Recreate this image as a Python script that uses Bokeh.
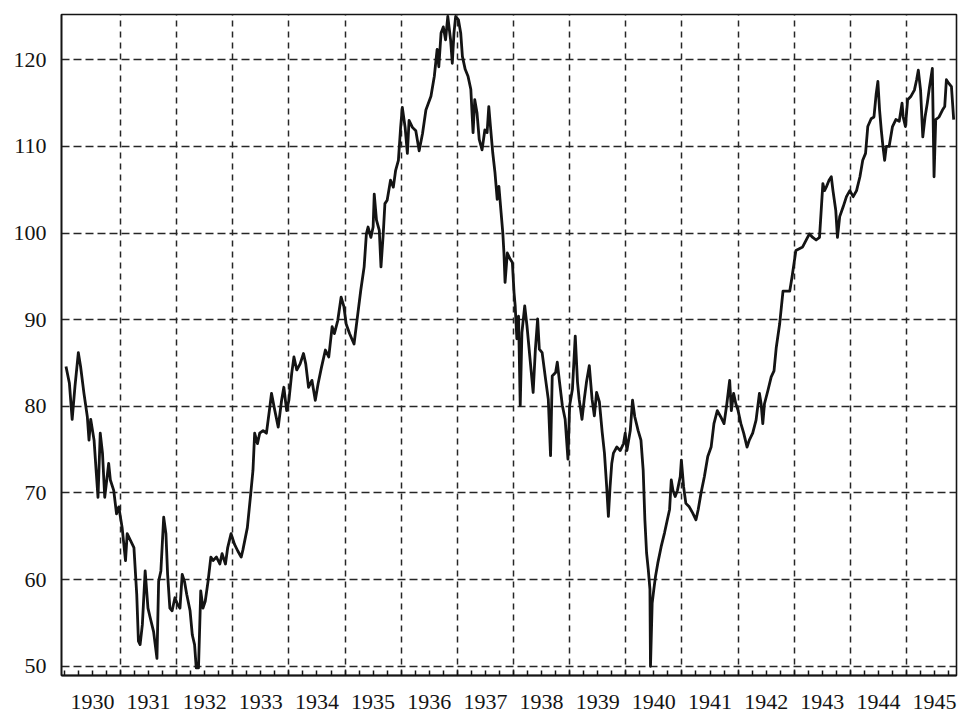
from bokeh.plotting import figure
from bokeh.models import FixedTicker, ColumnDataSource
from bokeh.embed import file_html
from bokeh.resources import INLINE

# ---- data ---------------------------------------------------------------
years = list(range(1930, 1946))
year_labels = [str(y) for y in years]
y_ticks = [50, 60, 70, 80, 90, 100, 110, 120]

dates = [
    1930.03, 1930.09, 1930.14, 1930.19, 1930.25, 1930.29, 1930.35, 1930.41, 1930.44, 1930.47,
    1930.53, 1930.57, 1930.60, 1930.64, 1930.68, 1930.72, 1930.79, 1930.82, 1930.88, 1930.93, 1930.97,
    1931.03, 1931.09, 1931.12, 1931.18, 1931.24, 1931.29, 1931.32, 1931.35, 1931.39, 1931.44,
    1931.49, 1931.53, 1931.59, 1931.65, 1931.68, 1931.72, 1931.77, 1931.81, 1931.84, 1931.88, 1931.92, 1931.97,
    1932.02, 1932.06, 1932.10, 1932.14, 1932.18, 1932.24, 1932.28, 1932.32, 1932.35, 1932.39, 1932.43,
    1932.47, 1932.51, 1932.56, 1932.61, 1932.65, 1932.71, 1932.77, 1932.81, 1932.87, 1932.91, 1932.97,
    1933.03, 1933.09, 1933.15, 1933.18, 1933.26, 1933.32, 1933.36, 1933.39, 1933.44, 1933.48, 1933.54,
    1933.60, 1933.66, 1933.69, 1933.75, 1933.81, 1933.87, 1933.91, 1933.96,
    1934.00, 1934.05, 1934.09, 1934.14, 1934.20, 1934.26, 1934.30, 1934.35, 1934.41, 1934.47, 1934.52,
    1934.58, 1934.65, 1934.71, 1934.77, 1934.81, 1934.87, 1934.93, 1934.98,
    1935.02, 1935.08, 1935.16, 1935.22, 1935.28, 1935.34, 1935.38, 1935.41, 1935.46, 1935.50, 1935.52,
    1935.56, 1935.61, 1935.64, 1935.68, 1935.71, 1935.75, 1935.81, 1935.86, 1935.90, 1935.95, 1935.99,
    1936.02, 1936.07, 1936.11, 1936.14, 1936.20, 1936.26, 1936.32, 1936.38, 1936.44, 1936.53, 1936.59,
    1936.64, 1936.67, 1936.71, 1936.75, 1936.79, 1936.83, 1936.88, 1936.91, 1936.94, 1936.97,
    1937.02, 1937.06, 1937.09, 1937.14, 1937.19, 1937.24, 1937.28, 1937.31, 1937.35, 1937.39, 1937.44,
    1937.49, 1937.53, 1937.56, 1937.59, 1937.63, 1937.67, 1937.71, 1937.74, 1937.78, 1937.81, 1937.83,
    1937.85, 1937.89, 1937.94, 1937.98,
    1938.01, 1938.03, 1938.06, 1938.09, 1938.12, 1938.15, 1938.20, 1938.24, 1938.30, 1938.35, 1938.39,
    1938.43, 1938.46, 1938.51, 1938.57, 1938.62, 1938.66, 1938.69, 1938.75, 1938.78, 1938.82, 1938.87,
    1938.92, 1938.97,
    1939.00, 1939.05, 1939.10, 1939.14, 1939.17, 1939.22, 1939.26, 1939.30, 1939.35, 1939.40, 1939.44,
    1939.48, 1939.53, 1939.58, 1939.62, 1939.66, 1939.69, 1939.72, 1939.75, 1939.78, 1939.84, 1939.90,
    1939.96, 1939.99,
    1940.02, 1940.08, 1940.12, 1940.16, 1940.22, 1940.27, 1940.31, 1940.34, 1940.37, 1940.40, 1940.43,
    1940.44, 1940.47, 1940.50, 1940.53, 1940.57, 1940.63, 1940.69, 1940.74, 1940.78, 1940.81, 1940.84,
    1940.88, 1940.92, 1940.97, 1940.99,
    1941.03, 1941.07, 1941.13, 1941.19, 1941.25, 1941.29, 1941.34, 1941.40, 1941.46, 1941.52, 1941.57,
    1941.63, 1941.69, 1941.75, 1941.80, 1941.85, 1941.88, 1941.92, 1941.96,
    1942.00, 1942.05, 1942.10, 1942.16, 1942.20, 1942.26, 1942.32, 1942.38, 1942.41, 1942.44, 1942.47,
    1942.53, 1942.59, 1942.64, 1942.68, 1942.74, 1942.77, 1942.80, 1942.86, 1942.92, 1942.96,
    1943.03, 1943.15, 1943.27, 1943.33, 1943.39, 1943.45, 1943.48, 1943.51, 1943.54, 1943.57, 1943.62,
    1943.66, 1943.69, 1943.74, 1943.77, 1943.81, 1943.87, 1943.93, 1943.99,
    1944.05, 1944.11, 1944.17, 1944.22, 1944.27, 1944.31, 1944.37, 1944.42, 1944.46, 1944.49, 1944.52,
    1944.55, 1944.58, 1944.61, 1944.64, 1944.69, 1944.75, 1944.81, 1944.87, 1944.92, 1944.94, 1944.98,
    1945.02, 1945.08, 1945.14, 1945.18, 1945.21, 1945.25, 1945.29, 1945.33, 1945.37, 1945.41, 1945.46,
    1945.49, 1945.52, 1945.58, 1945.64, 1945.68, 1945.71, 1945.75, 1945.80, 1945.84,
]

values = [
    84.6, 82.7, 78.5, 82.3, 86.2, 84.6, 81.5, 78.8, 76.1, 78.5,
    76.1, 72.3, 69.5, 76.9, 74.6, 69.5, 73.4, 71.5, 70.3, 67.6, 68.4,
    66.0, 62.2, 65.3, 64.5, 63.7, 58.3, 52.9, 52.5, 54.8, 61.0,
    56.7, 55.6, 54.0, 50.9, 59.8, 61.0, 67.2, 65.3, 60.6, 56.7, 56.4, 57.9,
    57.1, 56.7, 60.6, 59.8, 58.3, 56.4, 53.6, 52.5, 49.8, 49.8, 58.7,
    56.7, 57.5, 59.8, 62.6, 62.2, 62.6, 61.8, 63.0, 61.8, 63.7, 65.3,
    64.1, 63.3, 62.6, 63.4, 66.0, 69.9, 72.6, 76.9, 75.7, 76.9, 77.2,
    76.9, 79.9, 81.5, 79.5, 77.6, 80.7, 82.2, 79.5,
    80.7, 83.8, 85.7, 84.2, 84.9, 86.1, 84.9, 82.2, 83.0, 80.7, 82.6,
    84.5, 86.5, 85.7, 89.2, 88.4, 89.9, 92.6, 91.5,
    89.5, 88.4, 87.2, 90.3, 93.4, 96.1, 99.9, 100.7, 99.5, 100.7, 104.5,
    101.5, 100.3, 96.1, 99.9, 103.4, 103.8, 106.1, 105.3, 107.2, 108.4, 112.2,
    114.5, 112.2, 109.2, 113.0, 112.2, 111.8, 109.5, 111.5, 114.2, 115.8, 118.1,
    121.2, 119.2, 123.1, 123.8, 122.3, 125.0, 122.3, 119.6, 123.1, 125.0,
    124.6, 123.1, 120.4, 118.9, 118.1, 116.6, 111.6, 115.4, 113.9, 110.8, 109.6,
    111.9, 111.6, 114.6, 112.3, 109.3, 107.0, 103.9, 105.4, 102.3, 100.0, 97.7,
    94.3, 97.7, 97.0, 96.6,
    93.1, 91.6, 87.8, 90.4, 80.1, 88.5, 91.6, 89.3, 85.1, 81.6, 86.6,
    90.1, 86.6, 86.2, 83.2, 80.8, 74.3, 83.5, 83.9, 85.1, 82.8, 80.1,
    78.5, 73.9,
    80.1, 82.0, 88.1, 82.8, 80.8, 78.5, 80.8, 82.8, 84.7, 80.8, 78.9,
    81.6, 80.5, 77.0, 74.6, 70.7, 67.3, 70.7, 73.4, 74.6, 75.3, 74.9,
    75.7, 76.9,
    74.9, 77.2, 80.7, 78.8, 77.2, 76.1, 72.6, 66.9, 63.1, 61.2, 58.9,
    50.0, 57.3, 58.9, 60.4, 61.9, 63.8, 65.4, 66.9, 68.1, 71.5, 70.3,
    69.6, 70.3, 71.9, 73.8,
    70.7, 68.8, 68.4, 67.7, 66.9, 68.1, 70.0, 71.9, 74.2, 75.3, 78.0,
    79.5, 78.8, 78.0, 80.3, 83.0, 79.5, 81.5, 80.3,
    79.5, 78.0, 76.9, 75.3, 76.1, 76.9, 78.4, 81.5, 80.3, 78.0, 80.3,
    81.8, 83.4, 84.1, 86.8, 89.5, 91.4, 93.3, 93.3, 93.3, 94.9,
    98.0, 98.4, 99.9, 99.5, 99.2, 99.5, 102.6, 105.7, 104.9, 105.3, 106.1,
    106.5, 104.9, 102.6, 99.5, 101.9, 103.0, 104.2, 104.9,
    104.2, 104.9, 106.5, 108.4, 109.2, 112.3, 113.2, 113.4, 116.1, 117.5, 114.2,
    111.9, 110.0, 108.4, 110.0, 110.0, 112.3, 113.1, 112.9, 115.0, 113.4, 112.3,
    115.4, 115.8, 116.5, 117.7, 118.8, 116.5, 111.1, 113.4, 115.0, 116.9, 119.0,
    106.5, 113.1, 113.4, 114.2, 114.6, 117.7, 117.3, 116.9, 113.1,
]

# ---- figure -------------------------------------------------------------
INK = "#141414"
FONT = "Liberation Serif"

p = figure(
    frame_width=895, frame_height=661,
    x_range=(1929.95, 1945.89), y_range=(48.93, 125.23),
    output_backend="svg", toolbar_location=None,
    min_border_left=61, min_border_top=14, min_border_right=6, min_border_bottom=38,
    background_fill_color="white", border_fill_color="white",
)
p.outline_line_color = INK
p.outline_line_width = 1.6

src = ColumnDataSource(dict(date=dates, value=values))
p.line(x="date", y="value", source=src, line_color=INK, line_width=2.8,
       line_join="round")

# x axis: labels centred in each year, quarterly ticks pointing inwards
xa = p.xaxis[0]
xa.ticker = FixedTicker(
    ticks=[y + 0.5 for y in years],
    minor_ticks=[y + q for y in years for q in (0.0, 0.25, 0.75)],
)
xa.major_label_overrides = {y + 0.5: lab for y, lab in zip(years, year_labels)}
xa.major_tick_in = 5
xa.major_tick_out = 0
xa.minor_tick_in = 5
xa.minor_tick_out = 0
xa.major_tick_line_color = INK
xa.minor_tick_line_color = INK
xa.major_tick_line_width = 1.5
xa.minor_tick_line_width = 1.5
xa.axis_line_color = INK
xa.axis_line_width = 2
xa.major_label_text_font = FONT
xa.major_label_text_font_size = "22px"
xa.major_label_text_color = INK
xa.major_label_standoff = 19

ya = p.yaxis[0]
ya.ticker = FixedTicker(ticks=y_ticks)
ya.major_tick_in = 0
ya.major_tick_out = 0
ya.minor_tick_line_color = None
ya.axis_line_color = INK
ya.axis_line_width = 1.6
ya.major_label_text_font = FONT
ya.major_label_text_font_size = "22px"
ya.major_label_text_color = INK
ya.major_label_standoff = 15

# dashed grid: vertical lines at year boundaries, horizontal at y ticks
p.xgrid.ticker = FixedTicker(ticks=years[1:])
p.xgrid.grid_line_color = "#262626"
p.xgrid.grid_line_width = 1.5
p.xgrid.grid_line_dash = "6 5"
p.ygrid.ticker = FixedTicker(ticks=y_ticks)
p.ygrid.grid_line_color = "#262626"
p.ygrid.grid_line_width = 1.5
p.ygrid.grid_line_dash = "8 4"

open("out.html", "w").write(file_html(p, INLINE))
